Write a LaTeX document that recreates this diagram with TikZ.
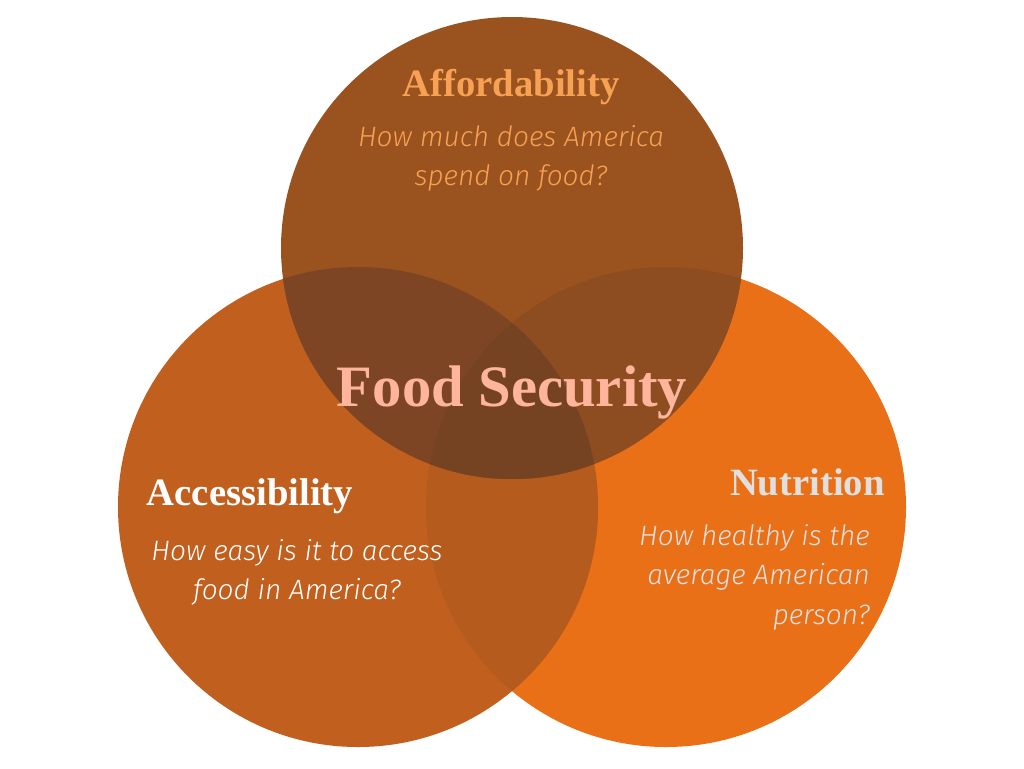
\documentclass[tikz,border=0pt]{standalone}
\usepackage{fontspec}
\setmainfont{Liberation Serif}
\setsansfont{Fira Sans}
\newfontfamily\questfont{Fira Sans Light}[ItalicFont={Fira Sans Light Italic}]
\usepackage{tikz}
\usetikzlibrary{positioning,calc}
\definecolor{foodTop}{HTML}{9A521F}
\definecolor{foodLeft}{HTML}{C15F1E}
\definecolor{foodRight}{HTML}{E97017}
\definecolor{foodLR}{HTML}{B55B1E}
\definecolor{foodTL}{HTML}{7D4524}
\definecolor{foodTR}{HTML}{8D4D20}
\definecolor{foodAll}{HTML}{754322}
\definecolor{textAfford}{HTML}{F7A154}
\definecolor{textNutri}{HTML}{E0E0E0}
\definecolor{textCore}{HTML}{FFB49C}

\begin{document}
\begin{tikzpicture}[x=0.75pt,y=-0.75pt]
    \tikzset{
      vhead/.style={font=\bfseries\fontsize{29}{33}\selectfont, inner sep=0pt},
      vquest/.style={font=\questfont\itshape\fontsize{21}{29.5}\selectfont, inner sep=0pt, align=center},
      vcore/.style={font=\bfseries\fontsize{44}{48}\selectfont, text=textCore, inner sep=0pt}
    }
    \useasboundingbox (0,0) rectangle (1024,768);
    \fill[white] (0,0) rectangle (1024,768);

    % Circles
    \fill[foodRight] (666,507) circle (240);
    \fill[foodLeft] (358,507) circle (240);
    \begin{scope}
      \clip (358,507) circle (240);
      \fill[foodLR] (666,507) circle (240);
    \end{scope}
    \fill[foodTop] (512,248) circle (231);
    \begin{scope}
      \clip (512,248) circle (231);
      \fill[foodTL] (358,507) circle (240);
      \fill[foodTR] (666,507) circle (240);
      \clip (358,507) circle (240);
      \fill[foodAll] (666,507) circle (240);
    \end{scope}

    % Affordability
    \node[vhead, text=textAfford] (afford) at (511,87) {Affordability};
    \node[vquest, text=textAfford, anchor=north] (affordq) at (511,125) {How much does America\\spend on food?};

    % Accessibility
    \node[vhead, text=white] (access) at (250,496) {Accessibility};
    \node[vquest, text=white, anchor=north] (accessq) at (297,539) {How easy is it to access\\food in America?};

    % Nutrition
    \node[vhead, text=textNutri, anchor=east] (nutri) at (885,482) {Nutrition};
    \node[vquest, text=textNutri, anchor=north east, align=right] (nutriq) at (870,524) {How healthy is the\\average American\\person?};

    % Centre
    \node[vcore] (core) at (512,392) {Food Security};
  \end{tikzpicture}
\end{document}
